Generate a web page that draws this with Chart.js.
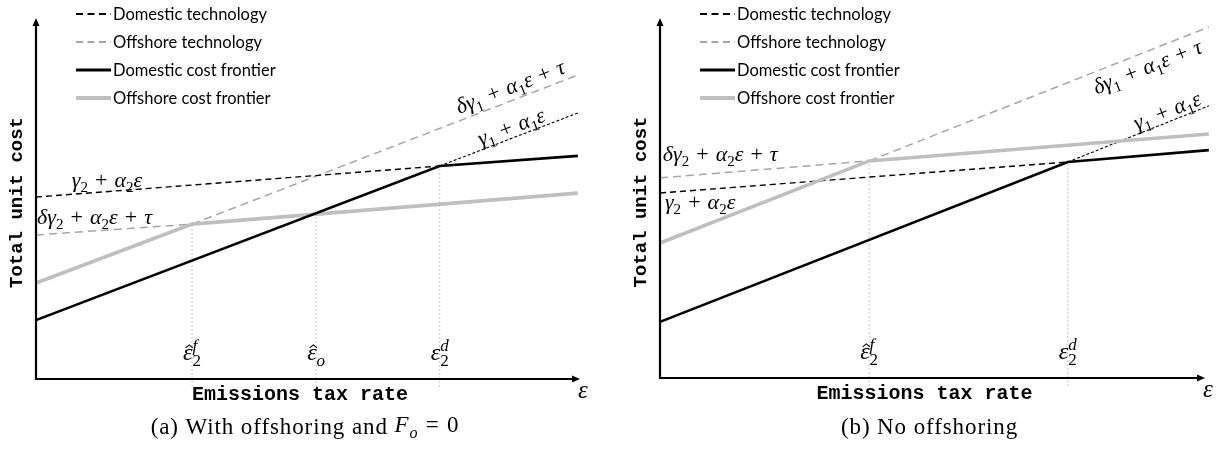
<!DOCTYPE html>
<html>
<head>
<meta charset="utf-8">
<script src="https://cdn.jsdelivr.net/npm/chart.js@4"></script>
<style>
  body { margin: 0; background: #fff; }
  #wrap { position: relative; width: 1229px; height: 450px; }
  canvas { position: absolute; top: 0; }
</style>
</head>
<body>
<div id="wrap">
  <canvas id="chartA" width="614" height="450" style="left:0"></canvas>
  <canvas id="chartB" width="615" height="450" style="left:614px"></canvas>
</div>
<script>
// legend entries
const seriesNames = ["Domestic technology", "Offshore technology", "Domestic cost frontier", "Offshore cost frontier"];

// curve labels
const labelGamma2 = "γ_2 + α_2ε";
const labelOffGamma2 = "δγ_2 + α_2ε + τ";
const labelGamma1 = "γ_1 + α_1ε";
const labelOffGamma1 = "δγ_1 + α_1ε + τ";

// (a) with offshoring, F_o = 0   (x: tax rate, y: unit cost, arbitrary units)
const aDomTechLow = [[0, 5.04], [7.45, 5.90]];
const aDomTechHigh = [[7.45, 5.90], [10, 7.37]];
const aOffTechLow = [[0, 3.99], [2.88, 4.29]];
const aOffTechHigh = [[2.88, 4.29], [10, 8.42]];
const aDomFrontier = [[0, 1.63], [7.45, 5.90], [10, 6.18]];
const aOffFrontier = [[0, 2.66], [2.88, 4.29], [10, 5.15]];
const aThresholds = [2.88, 5.17, 7.45];
const aThresholdTops = [4.29, 4.57, 5.90];
const aThresholdLabels = ["ε\u0302_2^f", "ε\u0302_o", "ε_2^d"];

// (b) no offshoring
const bDomTechLow = [[0, 5.14], [7.43, 6.00]];
const bDomTechHigh = [[7.43, 6.00], [10, 7.56]];
const bOffTechLow = [[0, 5.56], [3.81, 6.03]];
const bOffTechHigh = [[3.81, 6.03], [10, 9.75]];
const bDomFrontier = [[0, 1.56], [7.43, 6.00], [10, 6.33]];
const bOffFrontier = [[0, 3.75], [3.81, 6.03], [10, 6.78]];
const bThresholds = [3.81, 7.43];
const bThresholdTops = [6.03, 6.00];
const bThresholdLabels = ["ε\u0302_2^f", "ε_2^d"];

const MATH = '"Liberation Serif", "DejaVu Serif", serif';
const SANS = 'Lato, "Open Sans", sans-serif';
const MONO = '"Liberation Mono", "DejaVu Sans Mono", monospace';

const styles = {
  domTech: { color: "#000", width: 1.4, dash: [6, 4] },
  domTechFine: { color: "#000", width: 1.1, dash: [3, 2] },
  offTech: { color: "#a6a6a6", width: 1.5, dash: [8, 5] },
  domFront: { color: "#000", width: 2.6, dash: [] },
  offFront: { color: "#bfbfbf", width: 3.6, dash: [] },
  guide: { color: "#c4c4c4", width: 1, dash: [2, 2] },
};
const legendStyles = [styles.domTech, styles.offTech, styles.domFront, styles.offFront];

// tiny math typesetter: _x subscript, ^x superscript, \u0302 hat on previous glyph
function layoutMath(ctx, src, size) {
  const chars = Array.from(src);
  const items = [];
  let x = 0, lastBase = null, lastSub = null;
  for (let i = 0; i < chars.length; i++) {
    let c = chars[i];
    if (c === "\u0302") { if (lastBase) lastBase.hat = true; continue; }
    let kind = "base";
    if (c === "_" || c === "^") { kind = c === "_" ? "sub" : "sup"; c = chars[++i]; }
    const italic = /\p{L}/u.test(c);
    const fs = kind === "base" ? size : Math.round(size * 0.7);
    const font = (italic ? "italic " : "") + fs + "px " + MATH;
    ctx.font = font;
    let w = ctx.measureText(c).width;
    if (c === " ") w = size * 0.32;
    let ix = x;
    if (kind === "sup" && lastSub) ix = lastSub.x;
    const item = { c, font, x: ix, w, kind };
    items.push(item);
    lastSub = kind === "sub" ? item : null;
    if (kind === "base") lastBase = item;
    x = Math.max(x, ix + w);
  }
  return { items, width: x };
}

function drawMath(ctx, src, x, y, size, align) {
  const lay = layoutMath(ctx, src, size);
  const x0 = align === "center" ? x - lay.width / 2 : x;
  const base = y + size * 0.26;
  ctx.fillStyle = "#000";
  ctx.textAlign = "left";
  ctx.textBaseline = "alphabetic";
  lay.items.forEach((it) => {
    let dy = 0;
    if (it.kind === "sub") dy = size * 0.24;
    if (it.kind === "sup") dy = -size * 0.4;
    ctx.font = it.font;
    ctx.fillText(it.c, x0 + it.x, base + dy);
    if (it.hat) {
      const cx = x0 + it.x + it.w / 2 + size * 0.06, ty = base - size * 0.64;
      ctx.save();
      ctx.strokeStyle = "#000";
      ctx.lineWidth = 1.1;
      ctx.beginPath();
      ctx.moveTo(cx - 3.6, ty + 3);
      ctx.lineTo(cx, ty);
      ctx.lineTo(cx + 3.6, ty + 3);
      ctx.stroke();
      ctx.restore();
    }
  });
}

function arrowHead(ctx, x, y, dir) {
  ctx.beginPath();
  if (dir === "up") { ctx.moveTo(x, y); ctx.lineTo(x - 3.5, y + 8); ctx.lineTo(x + 3.5, y + 8); }
  else { ctx.moveTo(x, y); ctx.lineTo(x - 8, y - 3.5); ctx.lineTo(x - 8, y + 3.5); }
  ctx.closePath();
  ctx.fill();
}

function decorPlugin(p) {
  return {
    id: "decor",
    afterDraw(chart) {
      const ctx = chart.ctx;
      const { left, right, top, bottom } = chart.chartArea;
      const xs = chart.scales.x, ys = chart.scales.y;
      ctx.save();

      // axes with arrows
      ctx.strokeStyle = "#000";
      ctx.fillStyle = "#000";
      ctx.lineWidth = 2.2;
      ctx.beginPath();
      ctx.moveTo(left, bottom);
      ctx.lineTo(left, top + 6);
      ctx.moveTo(left - 1.1, bottom);
      ctx.lineTo(right - 6, bottom);
      ctx.stroke();
      arrowHead(ctx, left, top, "up");
      arrowHead(ctx, right, bottom, "right");

      // axis titles
      ctx.textAlign = "center";
      ctx.textBaseline = "middle";
      ctx.font = "bold 20px " + MONO;
      ctx.fillText("Emissions tax rate", (left + right) / 2 - 8, bottom + 16);
      ctx.font = "bold 19px " + MONO;
      ctx.save();
      ctx.translate(left - 19, (top + bottom) / 2 + 4);
      ctx.rotate(-Math.PI / 2);
      ctx.fillText("Total unit cost", 0, 0);
      ctx.restore();
      drawMath(ctx, "ε", right + 3, bottom + 12, 25, "center");

      // threshold labels
      p.thresholds.forEach((t, i) => {
        drawMath(ctx, p.thresholdLabels[i], xs.getPixelForValue(t), bottom - 25, 24, "center");
      });

      // curve labels
      p.curveLabels.forEach((l) => {
        const px = xs.getPixelForValue(l.x), py = ys.getPixelForValue(l.y);
        if (l.along) {
          const [a, b] = l.along;
          const ang = Math.atan2(ys.getPixelForValue(b[1]) - ys.getPixelForValue(a[1]),
                                 xs.getPixelForValue(b[0]) - xs.getPixelForValue(a[0]));
          ctx.save();
          ctx.translate(px, py);
          ctx.rotate(ang);
          drawMath(ctx, l.text, 0, 0, 22, "center");
          ctx.restore();
        } else {
          drawMath(ctx, l.text, px, py, 22, "left");
        }
      });

      // legend
      seriesNames.forEach((name, i) => {
        const st = legendStyles[i];
        const y = 14 + 28 * i;
        ctx.strokeStyle = st.color;
        ctx.lineWidth = st.width + 0.4;
        ctx.setLineDash(st.dash.length ? [7, 4.5] : []);
        ctx.beginPath();
        ctx.moveTo(left + 40, y);
        ctx.lineTo(left + 75, y);
        ctx.stroke();
        ctx.setLineDash([]);
        ctx.fillStyle = "#000";
        ctx.font = "16.5px " + SANS;
        ctx.textAlign = "left";
        ctx.textBaseline = "middle";
        ctx.fillText(name, left + 77, y + 1);
      });

      // caption
      ctx.font = "23px " + MATH;
      ctx.letterSpacing = "0.9px";
      const capW = ctx.measureText(p.caption).width;
      const mathW = p.captionMath ? layoutMath(ctx, p.captionMath, 23).width : 0;
      const cx0 = (left + right) / 2 - 3 - (capW + mathW) / 2;
      ctx.font = "23px " + MATH;
      ctx.fillStyle = "#000";
      ctx.textAlign = "left";
      ctx.textBaseline = "middle";
      ctx.fillText(p.caption, cx0, 428);
      if (p.captionMath) drawMath(ctx, p.captionMath, cx0 + capW, 426, 23, "left");
      ctx.letterSpacing = "0px";

      ctx.restore();
    },
  };
}

function line(points, st, order) {
  return {
    data: points.map(([x, y]) => ({ x, y })),
    borderColor: st.color,
    borderWidth: st.width,
    borderDash: st.dash,
    pointRadius: 0,
    fill: false,
    tension: 0,
    clip: false,
    order,
  };
}

function build(canvasId, p) {
  const datasets = [
    line(p.domFrontier, styles.domFront, 1),
    line(p.offFrontier, styles.offFront, 2),
    line(p.domTechLow, styles.domTech, 3),
    line(p.domTechHigh, styles.domTechFine, 3),
    line(p.offTechLow, styles.offTech, 4),
    line(p.offTechHigh, styles.offTech, 4),
  ];
  p.thresholds.forEach((t, i) => {
    datasets.push(line([[t, -0.22], [t, p.thresholdTops[i]]], styles.guide, 9));
  });
  new Chart(document.getElementById(canvasId), {
    type: "line",
    data: { datasets },
    options: {
      responsive: false,
      animation: false,
      devicePixelRatio: 1,
      events: [],
      layout: { padding: p.padding },
      scales: {
        x: { type: "linear", min: 0, max: p.xMax, display: false },
        y: { type: "linear", min: 0, max: 10, display: false },
      },
      plugins: { legend: { display: false }, tooltip: { enabled: false } },
    },
    plugins: [decorPlugin(p)],
  });
}

build("chartA", {
  domTechLow: aDomTechLow, domTechHigh: aDomTechHigh,
  offTechLow: aOffTechLow, offTechHigh: aOffTechHigh,
  domFrontier: aDomFrontier, offFrontier: aOffFrontier,
  thresholds: aThresholds, thresholdTops: aThresholdTops, thresholdLabels: aThresholdLabels,
  curveLabels: [
    { text: labelGamma2, x: 0.66, y: 5.48 },
    { text: labelOffGamma2, x: 0.02, y: 4.46 },
    { text: labelOffGamma1, x: 8.76, y: 8.06, along: aOffTechHigh },
    { text: labelGamma1, x: 8.78, y: 6.95, along: aDomTechHigh },
  ],
  caption: "(a) With offshoring and ",
  captionMath: "F_o = 0",
  xMax: 10.04,
  padding: { left: 36, top: 18, right: 34, bottom: 71 },
});

build("chartB", {
  domTechLow: bDomTechLow, domTechHigh: bDomTechHigh,
  offTechLow: bOffTechLow, offTechHigh: bOffTechHigh,
  domFrontier: bDomFrontier, offFrontier: bOffFrontier,
  thresholds: bThresholds, thresholdTops: bThresholdTops, thresholdLabels: bThresholdLabels,
  curveLabels: [
    { text: labelOffGamma2, x: 0.05, y: 6.19 },
    { text: labelGamma2, x: 0.09, y: 4.86 },
    { text: labelOffGamma1, x: 8.89, y: 8.61, along: bOffTechHigh },
    { text: labelGamma1, x: 9.25, y: 7.39, along: bDomTechHigh },
  ],
  caption: "(b) No offshoring",
  captionMath: "",
  xMax: 9.93,
  padding: { left: 46, top: 18, right: 24, bottom: 72 },
});
</script>
</body>
</html>
